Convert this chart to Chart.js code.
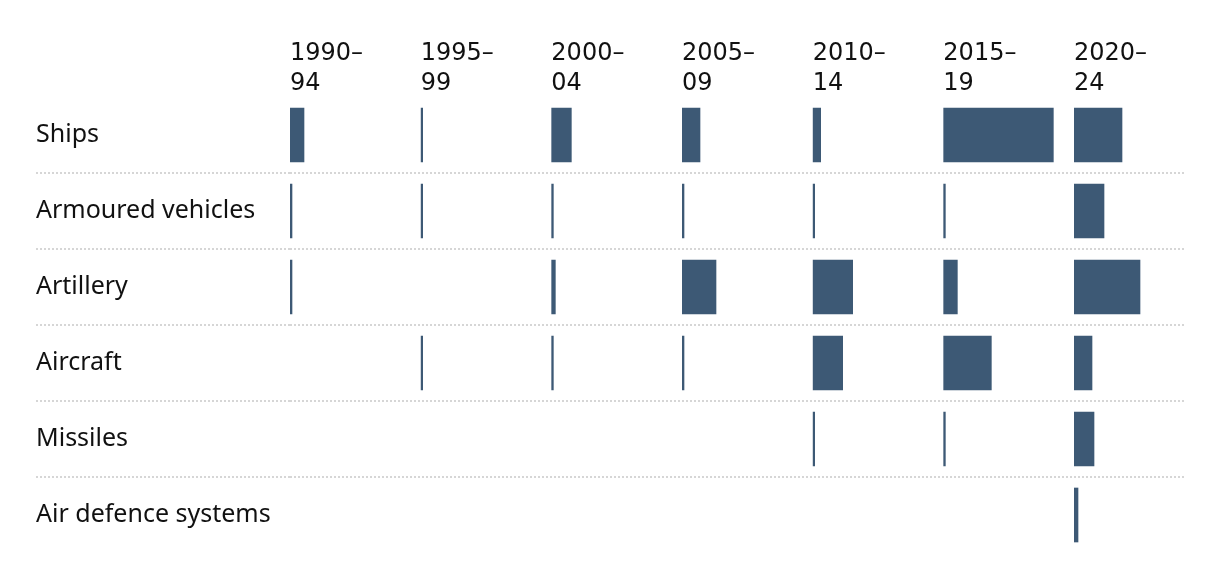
<!DOCTYPE html>
<html>
<head>
<meta charset="utf-8">
<script src="https://cdn.jsdelivr.net/npm/chart.js@4"></script>
<style>
  html, body { margin: 0; background: #fff; }
  #wrap { width: 1220px; height: 576px; }
</style>
</head>
<body>
<div id="wrap"><canvas id="chart"></canvas></div>
<script>
// categories (rows) and periods (columns)
const rows = ["Ships", "Armoured vehicles", "Artillery", "Aircraft", "Missiles", "Air defence systems"];
const periods = [["1990–", "94"], ["1995–", "99"], ["2000–", "04"], ["2005–", "09"], ["2010–", "14"], ["2015–", "19"], ["2020–", "24"]];

// estimated volume per period, one value per row (null = nothing delivered)
const v1990 = [14, 1, 1, null, null, null];
const v1995 = [1, 1, null, 1, null, null];
const v2000 = [20, 1, 4, 1, null, null];
const v2005 = [18, 1, 34, 1, null, null];
const v2010 = [8, 1, 40, 30, 1, null];
const v2015 = [110, 1, 14, 48, 1, null];
const v2020 = [48, 30, 66, 18, 20, 4];
const series = [v1990, v1995, v2000, v2005, v2010, v2015, v2020];

const colMax = 110;      // biggest value fills one column
const gapRatio = 0.188;  // empty space after each column
const barColor = "#3d5975";
const labelFont = "'Noto Sans', sans-serif";
const periodFont = "'DejaVu Sans', sans-serif";

// one small x axis per period, stacked side by side at the top
const scales = {};
periods.forEach((p, i) => {
    const last = i === periods.length - 1;
    scales["x" + i] = {
        type: "linear",
        position: "top",
        stack: "cols",
        weight: periods.length - i, // top boxes are laid out in reverse weight order
        stackWeight: last ? 1 : 1 + gapRatio,
        min: 0,
        max: last ? colMax : colMax * (1 + gapRatio),
        grid: { display: false, drawTicks: false },
        border: { display: false },
        ticks: { display: false },
        title: {
            display: true,
            text: p,
            align: "start",
            color: "#111",
            font: { family: periodFont, size: 24, lineHeight: 30 / 24 },
            padding: { top: 39, bottom: -2 }
        }
    };
});

const hideEdge = (c) => (c.type !== "tick" || c.index === 0) ? "rgba(0,0,0,0)" : "#d6d6d6";

scales.y = {
    type: "category",
    position: "left",
    grid: {
        offset: true,
        color: hideEdge,
        tickColor: hideEdge,
        lineWidth: 2,
        tickLength: 254,
        tickBorderDash: [2, 2]
    },
    border: { display: false, dash: [2, 2] },
    ticks: {
        crossAlign: "far",
        padding: 0,
        color: "#111",
        font: { family: labelFont, size: 25 }
    },
    afterFit: (s) => { s.width = 254; }
};

new Chart(document.getElementById("chart"), {
    type: "bar",
    data: {
        labels: rows,
        datasets: series.map((vals, i) => ({
            data: vals,
            xAxisID: "x" + i,
            backgroundColor: barColor,
            barThickness: 54,
            minBarLength: 2,
            grouped: false
        }))
    },
    options: {
        indexAxis: "y",
        responsive: true,
        maintainAspectRatio: false,
        animation: false,
        layout: { padding: { left: 36, right: 36, top: 0, bottom: 23 } },
        plugins: {
            legend: { display: false },
            tooltip: { enabled: false }
        },
        scales: scales
    }
});
</script>
</body>
</html>
